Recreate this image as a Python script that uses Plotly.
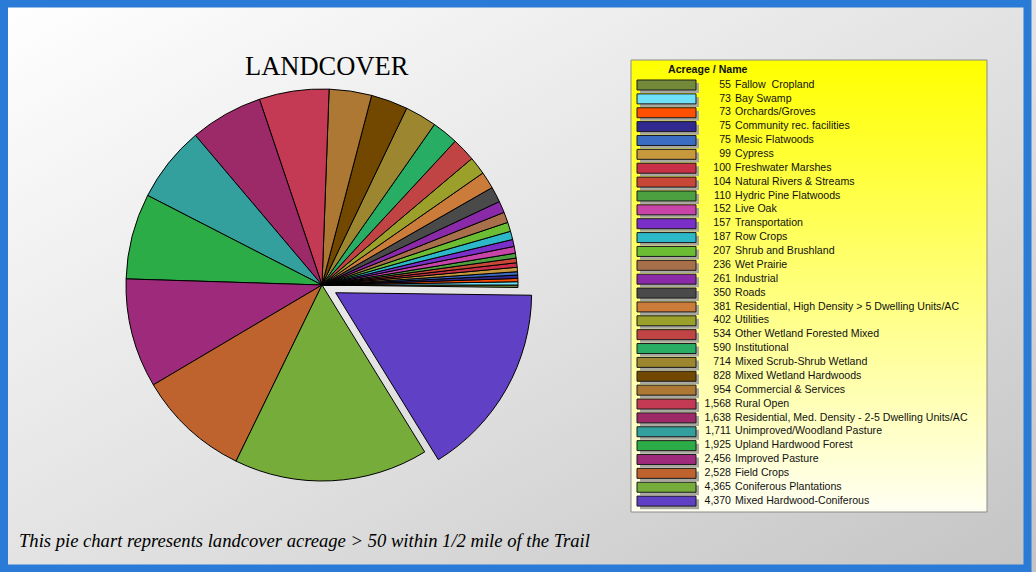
import base64
import plotly.graph_objects as go

# ---------------- data ----------------
acreage = [55, 73, 73, 75, 75, 99, 100, 104, 110, 152, 157, 187, 207, 236, 261,
           350, 381, 402, 534, 590, 714, 828, 954, 1568, 1638, 1711, 1925,
           2456, 2528, 4365, 4370]
names = ["Fallow  Cropland", "Bay Swamp", "Orchards/Groves", "Community rec. facilities",
         "Mesic Flatwoods", "Cypress", "Freshwater Marshes", "Natural Rivers & Streams",
         "Hydric Pine Flatwoods", "Live Oak", "Transportation", "Row Crops",
         "Shrub and Brushland", "Wet Prairie", "Industrial", "Roads",
         "Residential, High Density > 5 Dwelling Units/AC", "Utilities",
         "Other Wetland Forested Mixed", "Institutional", "Mixed Scrub-Shrub Wetland",
         "Mixed Wetland Hardwoods", "Commercial & Services", "Rural Open",
         "Residential, Med. Density - 2-5 Dwelling Units/AC",
         "Unimproved/Woodland Pasture", "Upland Hardwood Forest", "Improved Pasture",
         "Field Crops", "Coniferous Plantations", "Mixed Hardwood-Coniferous"]
colors = ["#728a3a", "#6ee0f8", "#ff5000", "#302a90", "#3a6cc4", "#c8983c", "#c83048",
          "#c84838", "#4ca040", "#c844a8", "#7a30c8", "#2cb8c8", "#6cbc34", "#a8704a",
          "#8a2aa8", "#4a4a4a", "#cc7c3a", "#9aa02a", "#c04444", "#28ae64", "#9c8630",
          "#724800", "#ad7834", "#c43a54", "#9c2a68", "#33a09e", "#2cac46", "#9e2a7c",
          "#be622e", "#76ac3a", "#6040c4"]
legend_title = "Acreage / Name"
title_text = "LANDCOVER"
caption = "This pie chart represents landcover acreage > 50 within 1/2 mile of the Trail"

W, H = 1036, 572
n = len(acreage)
idx = list(range(n))
num_text = [f"{v:,}" for v in acreage]


def px(x):
    return x / W


def py(y):
    return 1 - y / H


def svg_uri(svg):
    return "data:image/svg+xml;base64," + base64.b64encode(svg.encode()).decode()


bg_svg = (f"<svg xmlns='http://www.w3.org/2000/svg' width='{W}' height='{H}' preserveAspectRatio='none'>"
          "<defs><linearGradient id='g' x1='0' y1='0' x2='1' y2='1'>"
          "<stop offset='0' stop-color='#ffffff'/><stop offset='0.55' stop-color='#e0e0e0'/>"
          "<stop offset='1' stop-color='#c4c4c4'/></linearGradient></defs>"
          f"<rect width='{W}' height='{H}' fill='url(#g)'/></svg>")
leg_svg = ("<svg xmlns='http://www.w3.org/2000/svg' width='356' height='452' preserveAspectRatio='none'>"
           "<defs><linearGradient id='y' x1='0' y1='0' x2='0' y2='1'>"
           "<stop offset='0' stop-color='#ffff00'/><stop offset='1' stop-color='#fffff2'/>"
           "</linearGradient></defs><rect width='356' height='452' fill='url(#y)'/></svg>")

fig = go.Figure()

# pie
cx, cy, r, pull = 322, 285, 196, 0.08
half = r * (1 + pull)
fig.add_trace(go.Pie(
    values=acreage, labels=names, sort=False, direction="counterclockwise", rotation=90,
    marker=dict(colors=colors, line=dict(color="black", width=1)),
    pull=[0] * (n - 1) + [pull], textinfo="none", hoverinfo="label+value",
    showlegend=False,
    domain=dict(x=[px(cx - half), px(cx + half)], y=[py(cy + half), py(cy - half)]),
))

# legend drawn as a small chart
leg_x0, leg_x1, leg_y0, leg_y1 = 631, 987, 60, 512
row0, step = 85, 13.87
leg_font = dict(family="Liberation Sans, Arial", size=10.6, color="#111111")
fig.add_trace(go.Bar(orientation="h", y=[i + 0.22 for i in idx], x=[59] * n, base=640,
                     width=0.72, marker=dict(color="#a8a8a0", line=dict(width=0)),
                     hoverinfo="skip", showlegend=False))
fig.add_trace(go.Bar(orientation="h", y=idx, x=[59] * n, base=637, width=0.72,
                     marker=dict(color=colors, line=dict(color="#1a1a1a", width=1)),
                     hoverinfo="skip", showlegend=False))
fig.add_trace(go.Scatter(x=[731] * n, y=idx, mode="text", text=num_text,
                         textposition="middle left", textfont=leg_font,
                         hoverinfo="skip", showlegend=False))
fig.add_trace(go.Scatter(x=[735] * n, y=idx, mode="text", text=names,
                         textposition="middle right", textfont=leg_font,
                         hoverinfo="skip", showlegend=False))

fig.update_layout(
    width=W, height=H, margin=dict(l=0, r=0, t=0, b=0),
    paper_bgcolor="#dddddd", plot_bgcolor="rgba(0,0,0,0)",
    barmode="overlay", showlegend=False,
    xaxis=dict(domain=[px(leg_x0), px(leg_x1)], range=[leg_x0, leg_x1], visible=False,
               fixedrange=True),
    yaxis=dict(domain=[py(leg_y1), py(leg_y0)],
               range=[(leg_y1 - row0) / step, (leg_y0 - row0) / step], visible=False,
               fixedrange=True),
    images=[
        dict(source=svg_uri(bg_svg), xref="paper", yref="paper", x=0, y=1, sizex=1, sizey=1,
             sizing="stretch", xanchor="left", yanchor="top", layer="below"),
        dict(source=svg_uri(leg_svg), xref="paper", yref="paper", x=px(leg_x0), y=py(leg_y0),
             sizex=px(leg_x1 - leg_x0), sizey=(leg_y1 - leg_y0) / H, sizing="stretch",
             xanchor="left", yanchor="top", layer="below"),
    ],
    shapes=[
        dict(type="rect", xref="paper", yref="paper", x0=px(leg_x0), x1=px(leg_x1),
             y0=py(leg_y1), y1=py(leg_y0), line=dict(color="#8a8a8a", width=1),
             fillcolor="rgba(0,0,0,0)", layer="below"),
        dict(type="rect", xref="paper", yref="paper", x0=px(4), x1=px(1027.5),
             y0=py(568.5), y1=py(3.5), line=dict(color="#2a7ad8", width=8),
             fillcolor="rgba(0,0,0,0)"),
    ],
    annotations=[
        dict(text=title_text, xref="paper", yref="paper", x=px(327), y=py(66),
             xanchor="center", yanchor="middle", showarrow=False,
             font=dict(family="Liberation Serif, Times New Roman", size=26.5, color="black")),
        dict(text=f"<i>{caption}</i>", xref="paper", yref="paper", x=px(17), y=py(540),
             xanchor="left", yanchor="middle", showarrow=False,
             font=dict(family="Liberation Serif, Times New Roman", size=18.6, color="black")),
        dict(text=f"<b>{legend_title}</b>", xref="paper", yref="paper", x=px(666), y=py(69),
             xanchor="left", yanchor="middle", showarrow=False,
             font=dict(family="Liberation Sans, Arial", size=10.6, color="#111111")),
    ],
)

fig.write_html("out.html", config={"displayModeBar": False},
               post_script="document.body.style.margin='0';")
